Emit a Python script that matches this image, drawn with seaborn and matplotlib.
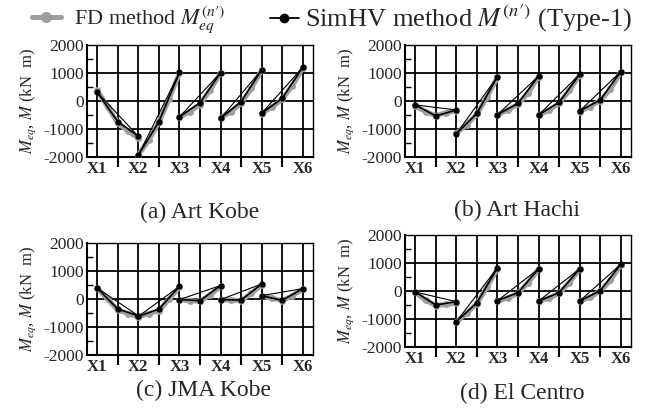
import numpy as np
import pandas as pd
import seaborn as sns
import matplotlib.pyplot as plt
from matplotlib.lines import Line2D
from matplotlib.ticker import MultipleLocator, FixedLocator

supports = ['X1', 'X2', 'X3', 'X4', 'X5', 'X6']
captions = ['(a) Art Kobe', '(b) Art Hachi', '(c) JMA Kobe', '(d) El Centro']

# SimHV method (Type-1): moment at left end, mid-span, right end of each span (kN m)
simhv_a = [[310, -740, -1260], [-1930, -740, 1020], [-570, -60, 1010], [-620, -25, 1110], [-440, 95, 1200]]
simhv_b = [[-140, -535, -320], [-1170, -440, 870], [-490, -85, 890], [-500, -50, 950], [-360, 35, 1050]]
simhv_c = [[390, -360, -600], [-620, -360, 450], [-20, -60, 480], [-20, -40, 535], [120, -50, 370]]
simhv_d = [[-35, -500, -380], [-1095, -420, 830], [-345, -60, 790], [-360, -60, 790], [-360, 10, 950]]

# FD method: moment at quarter points of each span (kN m)
fd_a = [[380, -200, -780, -1080, -1330], [-1930, -1400, -760, 80, 1000], [-580, -380, -130, 400, 1000],
        [-600, -380, -80, 450, 1100], [-450, -220, 60, 550, 1170]]
fd_b = [[-180, -380, -520, -420, -340], [-1150, -850, -470, 150, 850], [-500, -320, -120, 300, 870],
        [-500, -330, -80, 380, 930], [-380, -200, 10, 420, 1030]]
fd_c = [[380, 0, -400, -520, -640], [-640, -520, -420, 0, 420], [-30, -60, -80, 150, 450],
        [-20, -40, -60, 200, 500], [100, 30, -60, 120, 350]]
fd_d = [[-50, -330, -520, -480, -430], [-1100, -800, -450, 150, 800], [-360, -250, -80, 300, 780],
        [-370, -260, -80, 300, 780], [-370, -220, -10, 380, 930]]

simhv_all = [simhv_a, simhv_b, simhv_c, simhv_d]
fd_all = [fd_a, fd_b, fd_c, fd_d]


def to_frame(spans):
    rows = []
    for i, vals in enumerate(spans):
        for j, v in enumerate(vals):
            rows.append({'span': i, 'pos': i + j / (len(vals) - 1), 'M': v})
    return pd.DataFrame(rows)


def chord_frame(spans):
    return to_frame([[s[0], s[-1]] for s in spans])


sns.set_theme(style='white')
plt.rcParams['font.family'] = ['Liberation Serif', 'DejaVu Serif']
plt.rcParams['mathtext.fontset'] = 'stix'
plt.rcParams['axes.unicode_minus'] = False

fig = plt.figure(figsize=(6.49, 4.12), dpi=100)
W, H = 649, 412
boxes = [(87, 45), (405, 45), (87, 243), (405, 235)]
cap_pos = [(200, 212), (517, 210), (203, 390), (522, 393)]
GRAY = '#9e9e9e'

for k in range(4):
    x0, y0 = boxes[k]
    ax = fig.add_axes([x0 / W, 1 - (y0 + 112) / H, 226 / W, 112 / H])

    sns.lineplot(data=to_frame(fd_all[k]), x='pos', y='M', units='span', estimator=None,
                 color=GRAY, lw=3.6, marker='o', markersize=5, markeredgewidth=0,
                 ax=ax, zorder=3, legend=False)
    sns.lineplot(data=chord_frame(simhv_all[k]), x='pos', y='M', units='span', estimator=None,
                 color='black', lw=0.8, ax=ax, zorder=4, legend=False)
    sns.lineplot(data=to_frame(simhv_all[k]), x='pos', y='M', units='span', estimator=None,
                 color='black', lw=1.2, marker='o', markersize=4.5, markeredgewidth=0,
                 ax=ax, zorder=5, legend=False)

    ax.set_xlim(-0.25, 5.25)
    ax.set_ylim(-2000, 2000)
    ax.set_xticks(range(6))
    ax.set_xticklabels(supports, fontweight='bold', fontsize=12)
    ax.xaxis.set_minor_locator(FixedLocator(np.arange(0.5, 5, 1.0)))
    ax.yaxis.set_major_locator(MultipleLocator(1000))
    ax.yaxis.set_minor_locator(MultipleLocator(500))
    ax.tick_params(axis='x', which='major', length=0, pad=3, labelsize=12)
    ax.tick_params(axis='x', which='minor', direction='out', length=7, width=1.5, color='black', bottom=True)
    ax.tick_params(axis='y', which='major', length=0, pad=2, labelsize=12.5)
    ax.tick_params(axis='y', which='minor', direction='in', length=4, width=1, color='black', left=True)
    ax.grid(True, axis='x', which='both', color='black', lw=1.3)
    ax.grid(True, axis='y', which='major', color='black', lw=1.3)
    for s in ax.spines.values():
        s.set_color('black')
        s.set_linewidth(1.0)
    ax.spines['left'].set_linewidth(1.5)
    ax.spines['bottom'].set_linewidth(1.5)
    ax.set_xlabel('')
    ax.set_ylabel(r'$M_{eq}$, $M$ (kN  m)', fontsize=12)
    ax.yaxis.set_label_coords(-49 / 226, 0.5)
    ax.set_axisbelow(True)

    cx, cy = cap_pos[k]
    fig.text(cx / W, 1 - cy / H, captions[k], ha='center', va='center', fontsize=17)

fd_handle = Line2D([], [], color=GRAY, lw=3.6, marker='o', markersize=8, markeredgewidth=0)
sim_handle = Line2D([], [], color='black', lw=1.3, marker='o', markersize=7, markeredgewidth=0)
fig.legend([fd_handle], ["FD method $M_{eq}^{(n\u2032)}$"], loc='upper left',
           bbox_to_anchor=(12 / W, 1.038), frameon=False, fontsize=16,
           handlelength=1.3, handletextpad=0.6)
fig.legend([sim_handle], ["SimHV method $M^{(n\u2032)}$ (Type-1)"], loc='upper left',
           bbox_to_anchor=(246 / W, 1.05), frameon=False, fontsize=19,
           handlelength=1.1, handletextpad=0.25)

fig.savefig('out.png', dpi=100)
